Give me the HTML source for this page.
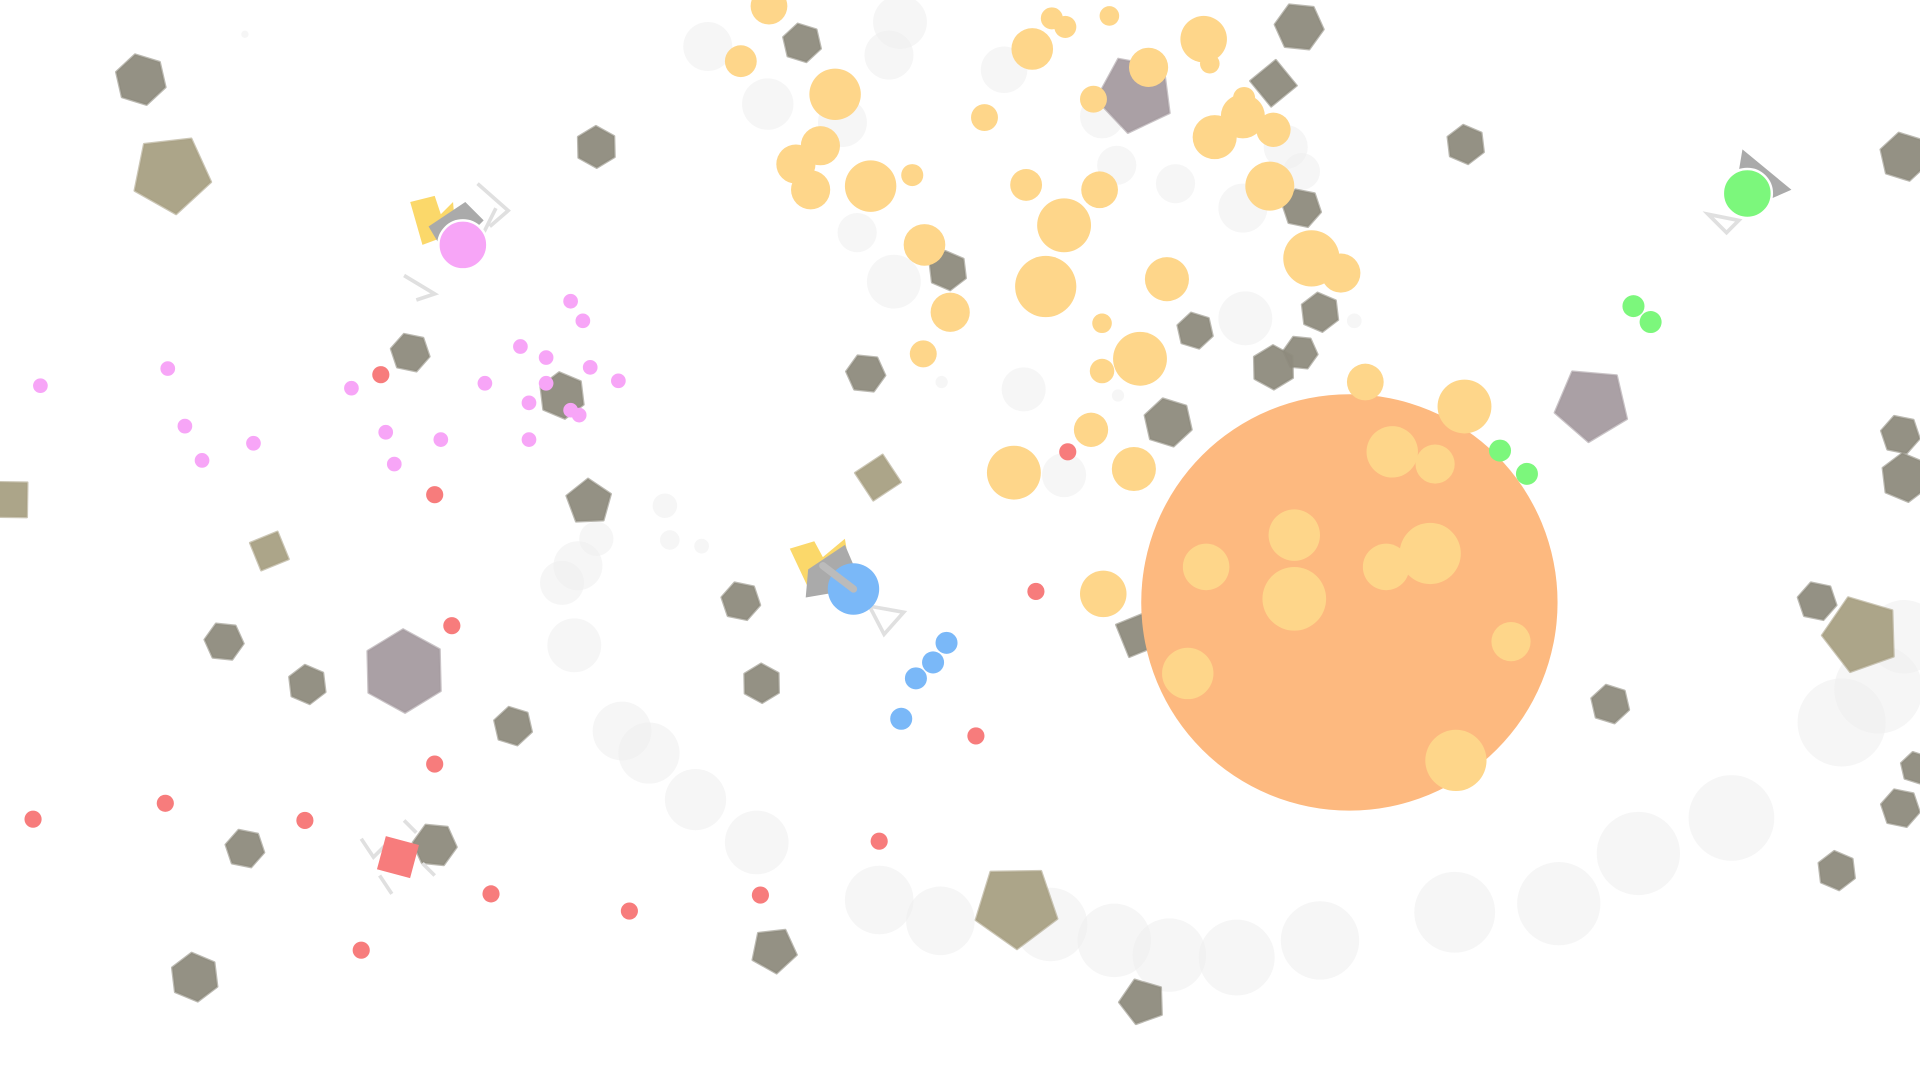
<!DOCTYPE html>
<html><head><meta charset="utf-8"><style>
html,body{margin:0;padding:0;background:#fff;width:1920px;height:1080px;overflow:hidden}
svg{display:block}
</style></head><body>
<svg id="s" width="1920" height="1080" viewBox="0 0 1568 882" xmlns="http://www.w3.org/2000/svg"></svg>
<script>
const s=document.getElementById('s');let h='';
function poly(cx,cy,r,n,fill,rot,op){rot=rot||0;let p=[];for(let i=0;i<n;i++){const a=rot+i*2*Math.PI/n;p.push((cx+r*Math.cos(a)).toFixed(1)+','+(cy+r*Math.sin(a)).toFixed(1));}
h+=`<polygon points="${p.join(' ')}" fill="${fill}" fill-opacity="${op||0.95}" stroke="${fill}" stroke-opacity="0.6" stroke-width="2" stroke-linejoin="round"/>`;}
function c(x,y,r,f,op){h+=`<circle cx="${x}" cy="${y}" r="${r}" fill="${f}" fill-opacity="${op||1}"/>`;}
// background bubbles
[[578,38,20],[627,85,21],[726,45,20],[735,18,22],[820,57,19],[960,150,16],[1015,170,20],[1017,260,22],[836,318,18],[869,388,18],[730,230,22],[700,190,16],[688,100,20],[469,527,22],[459,476,18],[472,462,20],[487,440,14],[543,413,10],[547,441,8],[573,446,6],[508,597,24],[530,615,25],[568,653,25],[618,688,26],[718,735,28],[768,752,28],[858,755,30],[910,768,30],[955,780,30],[1010,782,31],[1078,768,32],[1188,745,33],[1273,738,34],[1338,697,34],[1414,668,35],[1504,590,36],[1534,563,36],[1555,520,30],[1063,140,15],[1050,120,18],[912,135,16],[900,95,18],[200,28,3],[769,312,5],[913,323,5],[1106,262,6]].forEach(b=>c(b[0],b[1],b[2],'#eeeeee',0.55));
// gray/olive polygons
const g='#8e8b7d',o='#a8a083',pu='#a59ba0';
[[115,65,21,6,g,0.3],[140,142,33,5,o,0.2],[487,120,17,6,g,0.5],[335,288,16,6,g,0.2],[459,323,19,6,g,0.4],[481,410,19,5,g,0.9],[220,450,17,4,o,0.4],[8,408,20,4,o,0.8],[183,524,16,6,g,0.1],[251,559,16,6,g,0.4],[330,548,34,6,pu,0.5],[419,593,16,6,g,0.3],[200,693,16,6,g,0.2],[355,690,18,6,g,0.1],[159,798,20,6,g,0.4],[605,491,16,6,g,0.2],[622,558,16,6,g,0.5],[707,305,16,6,g,0.1],[774,221,16,6,g,0.4],[717,390,19,4,o,0.2],[655,35,16,6,g,0.3],[927,77,32,5,pu,0.5],[1061,22,20,6,g,0.1],[1040,68,19,4,g,0.1],[1063,170,16,6,g,0.2],[1078,255,16,6,g,0.4],[976,270,15,6,g,0.3],[1040,300,18,6,g,0.5],[1062,288,14,6,g,0.1],[954,345,20,6,g,0.3],[930,518,20,4,g,0.4],[1197,118,16,6,g,0.4],[1300,330,31,5,pu,0.4],[1555,128,20,6,g,0.3],[1552,355,16,6,g,0.2],[1556,390,20,6,g,0.4],[1484,491,16,6,g,0.2],[1520,518,32,5,o,0.6],[1315,575,16,6,g,0.3],[1552,660,16,6,g,0.2],[1500,711,16,6,g,0.4],[1565,627,13,6,g,0.3],[830,740,35,5,o,0.3],[632,776,19,5,g,0.2],[933,818,19,5,g,0.6]].forEach(p=>poly(p[0],p[1],p[2],p[3],p[4],p[5]));
// big orange
c(1102,492,170,'#fdb97f');
// yellow circles
const y='#fed68a';
[[628,5,15],[605,50,13],[682,77,21],[670,119,16],[650,134,16],[662,155,16],[711,152,21],[745,143,9],[755,200,17],[776,255,16],[754,289,11],[843,40,17],[859,15,9],[870,22,9],[906,13,8],[893,81,11],[938,55,16],[983,32,19],[988,52,8],[992,112,18],[1015,95,18],[1040,106,14],[1016,80,9],[804,96,11],[838,151,13],[898,155,15],[869,184,22],[854,234,25],[953,228,18],[900,264,8],[931,293,22],[900,303,10],[891,351,14],[828,386,22],[926,383,18],[1037,152,20],[1071,211,23],[1095,223,16],[1115,312,15],[1196,332,22],[1137,369,21],[1172,379,16],[1057,437,21],[985,463,19],[1057,489,26],[1132,463,19],[1168,452,25],[1234,524,16],[970,550,21],[1189,621,25],[901,485,19]].forEach(b=>c(b[0],b[1],b[2],y));
// pink dots
[[466,246],[476,262],[425,283],[446,292],[482,300],[505,311],[396,313],[446,313],[432,329],[466,335],[473,339],[287,317],[315,353],[360,359],[432,359],[322,379],[207,362],[165,376],[151,348],[137,301],[33,315]].forEach(d=>c(d[0],d[1],6,'#f7a5f7'));
// red dots
[[311,306],[355,404],[369,511],[355,624],[249,670],[135,656],[27,669],[401,730],[295,776],[514,744],[621,731],[718,687],[797,601],[846,483],[872,369]].forEach(d=>c(d[0],d[1],7,'#f77c7c'));
// blue / green dots
[[773,525],[762,541],[748,554],[736,587]].forEach(d=>c(d[0],d[1],9,'#7ab8f8'));
[[1334,250],[1348,263],[1225,368],[1247,387]].forEach(d=>c(d[0],d[1],9,'#7cf77c'));
// tanks
h+=`<g stroke="#e0e0e0" stroke-width="3" fill="none"><path d="M390,150 L415,172 L400,185 M330,225 L355,240 L340,245 M405,170 L395,190"/><path d="M710,495 L738,500 L722,518 Z"/><path d="M1395,175 L1410,190 L1420,180 Z"/><path d="M295,685 L305,700 L315,690 M330,670 L340,680 M310,715 L320,730 M345,705 L355,715"/></g>`;
h+=`<polygon points="335,165 355,160 360,175 370,165 372,190 345,200" fill="#fbd86a"/>`;
h+=`<polygon points="350,185 380,165 395,180 365,210" fill="#aaaaaa"/>`;
c(378,200,20,'#f7a5f7');h+=`<circle cx="378" cy="200" r="20" fill="none" stroke="#fff" stroke-width="2"/>`;
h+=`<polygon points="645,448 665,442 672,455 690,440 695,470 660,480" fill="#fbd86a"/>`;
h+=`<polygon points="660,465 690,445 705,480 658,488" fill="#aaaaaa"/>`;
c(697,481,21,'#7ab8f8');h+=`<line x1="672" y1="462" x2="697" y2="481" stroke="#bbb" stroke-width="6" stroke-linecap="round"/>`;
h+=`<polygon points="1423,122 1463,155 1440,165 1420,140" fill="#aaaaaa"/>`;
c(1427,158,20,'#7cf77c');h+=`<circle cx="1427" cy="158" r="20" fill="none" stroke="#fff" stroke-width="2"/>`;
h+=`<rect x="311" y="686" width="28" height="28" fill="#f77c7c" transform="rotate(15 325 700)"/>`;
s.innerHTML=h;
</script>
</body></html>
